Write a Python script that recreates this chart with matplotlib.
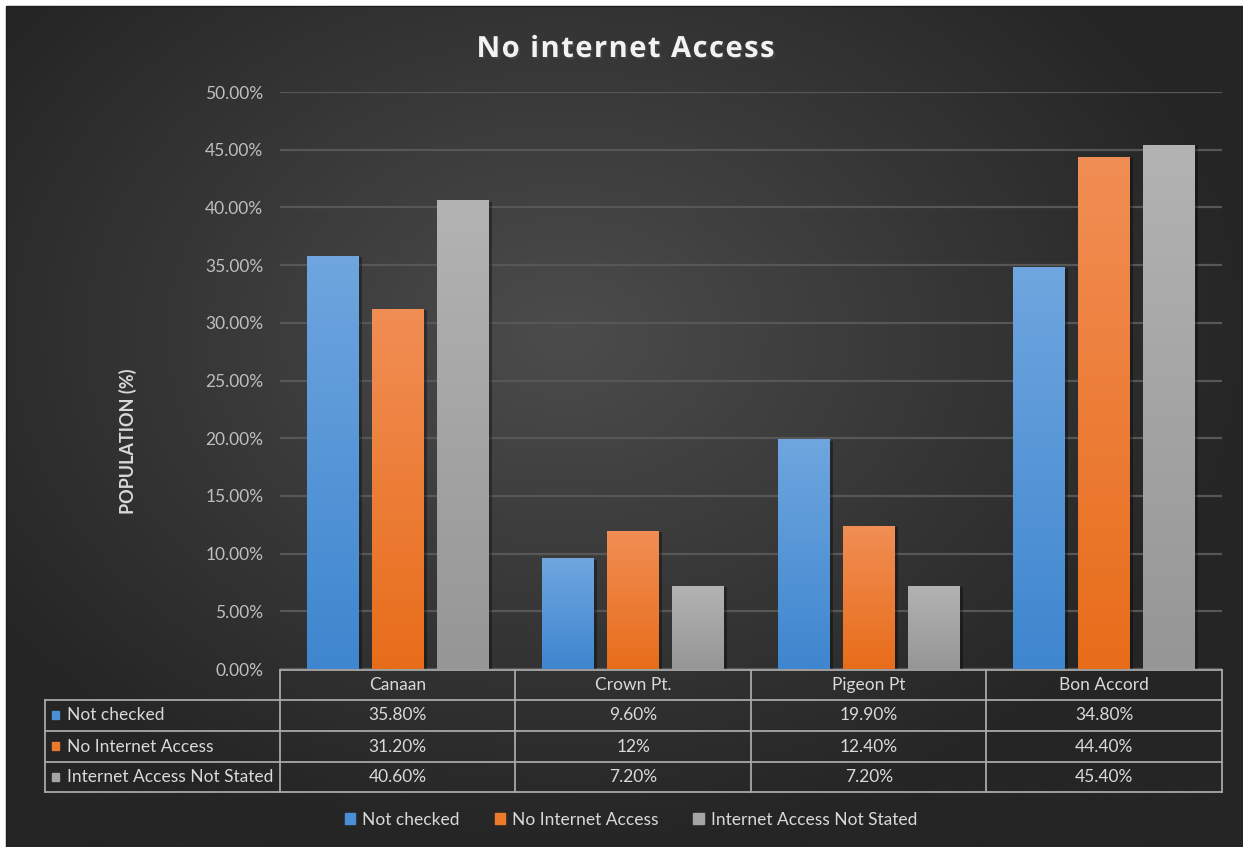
import numpy as np
import matplotlib
matplotlib.use("Agg")
import matplotlib.pyplot as plt
from matplotlib import patheffects as pe
from matplotlib import font_manager
from matplotlib.patches import Rectangle
from matplotlib.colors import LinearSegmentedColormap

# ---- data ----
categories = ["Canaan", "Crown Pt.", "Pigeon Pt", "Bon Accord"]
series_names = ["Not checked", "No Internet Access", "Internet Access Not Stated"]
not_checked = [35.8, 9.6, 19.9, 34.8]
no_access = [31.2, 12.0, 12.4, 44.4]
not_stated = [40.6, 7.2, 7.2, 45.4]
table_labels = [
    ["35.80%", "9.60%", "19.90%", "34.80%"],
    ["31.20%", "12%", "12.40%", "44.40%"],
    ["40.60%", "7.20%", "7.20%", "45.40%"],
]
y_ticks = [0, 5, 10, 15, 20, 25, 30, 35, 40, 45, 50]
title = "No internet Access"

# ---- styling ----
W, H = 1243, 847
DPI = 100
FONT = "Lato"
TXT = "#d9d9d9"
GRID = "#575757"
TABLE_LINE = "#a8a8a8"
series_colors = ["#4a8fd6", "#ec7a2c", "#a5a5a5"]
grad_tops = ["#6fa6df", "#f18e55", "#b3b3b3"]
grad_bottoms = ["#3e86cf", "#e86d1a", "#969696"]

fig = plt.figure(figsize=(W / DPI, H / DPI), dpi=DPI, facecolor="white")

# background with radial glow, in pixel coordinates
bg = fig.add_axes([0, 0, 1, 1], zorder=0)
bg.set_xlim(0, W)
bg.set_ylim(H, 0)
bg.axis("off")
yy, xx = np.mgrid[0:H, 0:W]
cx, cy = 560, 330
r = np.sqrt(((xx - cx) / 700.0) ** 2 + ((yy - cy) / 520.0) ** 2)
r = np.clip(r, 0, 1)
shade = 0x4c / 255 * (1 - r) + 0x25 / 255 * r
img = np.dstack([shade, shade, shade])
bg.imshow(img, extent=(7, W, H, 7), aspect="auto", interpolation="bilinear", zorder=0)
bg.add_patch(Rectangle((6.5, 6.5), W, H, fill=False, ec="#1e1e1e", lw=1.0, zorder=1))

# main plotting area
left_px, right_px, top_px, bot_px = 280, 1222, 92, 669
ax = fig.add_axes([left_px / W, 1 - bot_px / H, (right_px - left_px) / W,
                   (bot_px - top_px) / H], zorder=2)
ax.patch.set_alpha(0)
ax.set_xlim(-0.5, len(categories) - 0.5)
ax.set_ylim(0, 50)
ax.set_yticks(y_ticks)
ax.set_yticklabels([f"{t:.2f}%" for t in y_ticks])
ax.set_xticks([])
for s in ax.spines.values():
    s.set_visible(False)
ax.tick_params(axis="y", length=0, pad=12, labelsize=12.5, labelcolor="#bfbfbf")
for lab in ax.get_yticklabels():
    lab.set_fontfamily(FONT)
ax.grid(axis="y", color=GRID, lw=1.6)
ax.set_axisbelow(True)

x = np.arange(len(categories))
bar_w = 52 / 235.5
step = 65 / 235.5
all_series = [not_checked, no_access, not_stated]
for k, vals in enumerate(all_series):
    pos = x + (k - 1) * step
    bars = ax.bar(pos, vals, width=bar_w, color=series_colors[k], zorder=3,
                  path_effects=[pe.SimplePatchShadow(offset=(2, -1), shadow_rgbFace="black",
                                                     alpha=0.35), pe.Normal()])
    cmap = LinearSegmentedColormap.from_list(f"g{k}", [grad_bottoms[k], grad_tops[k]])
    grad = np.linspace(0, 1, 256).reshape(-1, 1)
    for b in bars:
        x0 = b.get_x()
        h = b.get_height()
        im = ax.imshow(grad, cmap=cmap, origin="lower", aspect="auto",
                       extent=(x0, x0 + b.get_width(), 0, h), zorder=4,
                       interpolation="bilinear")
        im.set_clip_path(b)
ax.set_xlim(-0.5, len(categories) - 0.5)
ax.set_ylim(0, 50)

# overlay in pixel coordinates for title, table and labels
ov = fig.add_axes([0, 0, 1, 1], zorder=5)
ov.set_xlim(0, W)
ov.set_ylim(H, 0)
ov.axis("off")

# letter-spaced title
title_size = 21
tprop = font_manager.FontProperties(family="Open Sans", weight="bold", size=title_size)
tfont = font_manager.get_font(font_manager.findfont(tprop))
tfont.set_size(title_size, DPI)
advances = []
for ch in title:
    g = tfont.load_char(ord(ch))
    advances.append(g.linearHoriAdvance / 65536.0)
target_w = 298
track = (target_w - sum(advances)) / (len(title) - 1)
xpos = 625.5 - target_w / 2
for ch, adv in zip(title, advances):
    ov.text(xpos, 46, ch, ha="left", va="center_baseline", fontproperties=tprop,
            color="#f2f2f2",
            path_effects=[pe.withSimplePatchShadow(offset=(1.5, -1.5), alpha=0.6)])
    xpos += adv + track

ov.text(128, 441, "POPULATION (%)", rotation=90, ha="center", va="center",
        fontsize=13, fontweight="bold", family=FONT, color=TXT)

# data table beneath the axis
col_w = (right_px - left_px) / len(categories)
col_edges = [left_px + i * col_w for i in range(len(categories) + 1)]
row_edges = [670, 700, 731, 762, 792]
label_left = 45
lw = 1.3
ov.plot([left_px, right_px], [row_edges[0]] * 2, color=TABLE_LINE, lw=lw)
for yv in row_edges[1:]:
    ov.plot([label_left, right_px], [yv, yv], color=TABLE_LINE, lw=lw)
for xv in col_edges:
    ov.plot([xv, xv], [row_edges[0], row_edges[-1]], color=TABLE_LINE, lw=lw)
ov.plot([label_left, label_left], [row_edges[1], row_edges[-1]], color=TABLE_LINE, lw=lw)

for i, cat in enumerate(categories):
    ov.text(left_px + col_w * (i + 0.5), (row_edges[0] + row_edges[1]) / 2, cat,
            ha="center", va="center", fontsize=12.5, family=FONT, color=TXT)
for rI, name in enumerate(series_names):
    yc = (row_edges[rI + 1] + row_edges[rI + 2]) / 2
    ov.add_patch(Rectangle((label_left + 7, yc - 4), 7, 8, color=series_colors[rI]))
    ov.text(label_left + 22, yc, name, ha="left", va="center", fontsize=12.5,
            family=FONT, color=TXT)
    for i in range(len(categories)):
        ov.text(left_px + col_w * (i + 0.5), yc, table_labels[rI][i], ha="center",
                va="center", fontsize=12.5, family=FONT, color=TXT)

# legend
handles = [Rectangle((0, 0), 1, 1, color=c) for c in series_colors]
leg = fig.legend(handles, series_names, loc="center", bbox_to_anchor=(631 / W, 1 - 820 / H),
                 ncol=3, frameon=False, handlelength=0.6, handleheight=0.6,
                 handletextpad=0.4, columnspacing=2.0,
                 prop={"family": FONT, "size": 12.5})
for t in leg.get_texts():
    t.set_color(TXT)

fig.savefig("out.png", dpi=DPI, facecolor="white")
